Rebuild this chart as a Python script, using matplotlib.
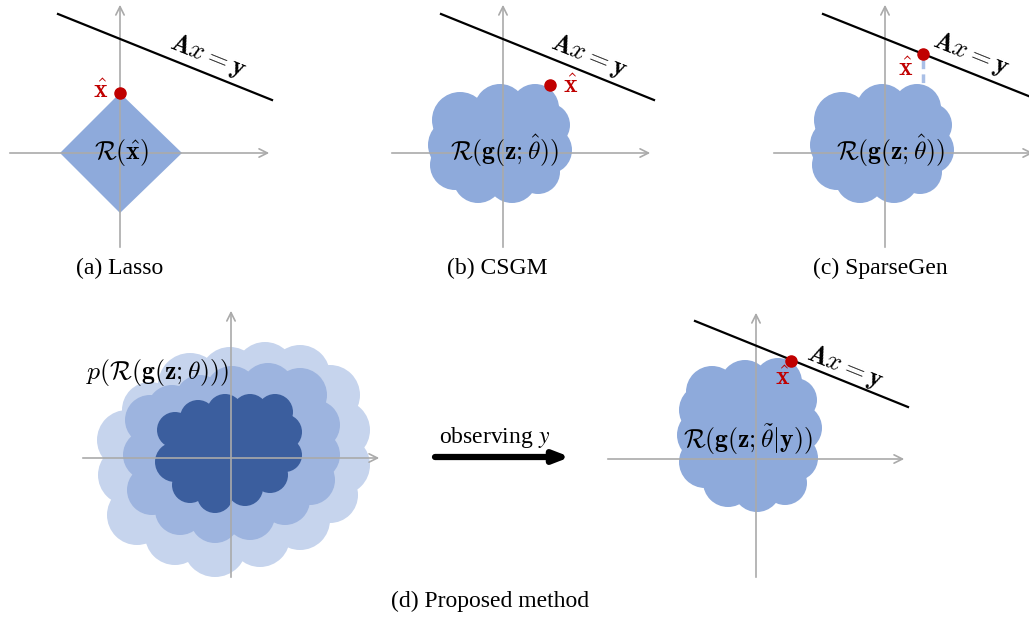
import matplotlib.pyplot as plt
from matplotlib.patches import Circle, Polygon

# canvas is laid out in pixel units of the reference (x right, y down)
W, H = 1029, 620

AXIS_GRAY = "#aaaaaa"
BLUE = "#8eaadb"
OUTER = "#c6d4ed"
MIDDLE = "#9db4df"
INNER = "#3b5e9e"
RED = "#c00000"

# panel axes: x of vertical axis, y of horizontal axis and their extents
panel_axes = {
    "a": dict(x=120, y=153, left=7, right=272, top=2, bottom=250),
    "b": dict(x=503, y=153, left=389, right=653, top=2, bottom=250),
    "c": dict(x=885, y=153, left=771, right=1036, top=2, bottom=250),
    "d1": dict(x=231, y=458, left=80, right=382, top=308, bottom=580),
    "d2": dict(x=756, y=459, left=605, right=907, top=310, bottom=580),
}

# constraint lines A x = y: start, end, label centre
constraint_lines = {
    "a": ((58, 14), (272, 100), (208, 56)),
    "b": ((441, 14), (654, 100), (589, 56)),
    "c": ((823, 14), (1036, 99), (971, 54)),
    "d2": ((695, 321), (908, 407), (845, 367)),
}

# lasso l1 ball: top, right, bottom, left corners
diamond = [(120, 93), (182, 153), (120, 213), (60, 153)]

# cloud bumps (x, y, r), in order round the outline
cloud_b = [(460, 120, 28), (500, 110, 26), (535, 108, 24), (548, 125, 22),
           (548, 150, 24), (538, 172, 22), (512, 178, 25), (478, 178, 25),
           (455, 165, 25), (455, 145, 27)]
cloud_c_shift = 382

cloud_d2 = [(712, 392, 26), (745, 385, 25), (778, 382, 24), (795, 400, 22),
            (798, 428, 24), (795, 458, 23), (785, 483, 22), (757, 488, 24),
            (728, 482, 25), (705, 462, 26), (703, 435, 26), (705, 410, 26)]

cloud_outer = [(150, 410, 28), (127, 440, 30), (128, 475, 30), (137, 515, 30),
               (175, 535, 30), (215, 545, 32), (260, 537, 30), (300, 520, 30),
               (330, 495, 28), (340, 465, 30), (340, 430, 30), (330, 395, 30),
               (300, 375, 30), (265, 372, 30), (230, 377, 30), (190, 385, 32)]

cloud_middle = [(172, 410, 25), (150, 420, 25), (148, 455, 25), (152, 490, 25),
                (180, 510, 25), (215, 518, 25), (250, 515, 25), (285, 500, 25),
                (310, 480, 25), (315, 455, 25), (315, 425, 25), (300, 395, 27),
                (268, 390, 27), (232, 393, 27), (200, 400, 25)]

cloud_inner = [(175, 430, 18), (175, 462, 20), (190, 485, 18), (215, 495, 18),
               (245, 488, 18), (270, 475, 18), (285, 455, 17), (284, 432, 18),
               (275, 412, 18), (250, 412, 18), (225, 412, 18), (198, 418, 18)]

captions = [("(a) Lasso", 120, 268), ("(b) CSGM", 497, 268),
            ("(c) SparseGen", 880, 268), ("(d) Proposed method", 490, 601)]

plt.rcParams["mathtext.fontset"] = "cm"

fig = plt.figure(figsize=(W / 100, H / 100), dpi=100)
ax = fig.add_axes([0, 0, 1, 1])
ax.set_xlim(0, W)
ax.set_ylim(H, 0)
ax.axis("off")


def draw_cloud(bumps, color, dx=0, dy=0, z=2):
    pts = [(x + dx, y + dy) for x, y, r in bumps]
    ax.add_patch(Polygon(pts, closed=True, fc=color, ec="none", zorder=z))
    for x, y, r in bumps:
        ax.add_patch(Circle((x + dx, y + dy), r, fc=color, ec="none", zorder=z))


def draw_axes(p):
    arrow = dict(arrowstyle="->,head_length=0.6,head_width=0.3", color=AXIS_GRAY, lw=1.2)
    ax.annotate("", xy=(p["right"], p["y"]), xytext=(p["left"], p["y"]),
                arrowprops=arrow, zorder=5, annotation_clip=False)
    ax.annotate("", xy=(p["x"], p["top"]), xytext=(p["x"], p["bottom"]),
                arrowprops=arrow, zorder=5, annotation_clip=False)


def draw_constraint(key):
    (x0, y0), (x1, y1), (tx, ty) = constraint_lines[key]
    ax.plot([x0, x1], [y0, y1], color="black", lw=1.6, zorder=6)
    ax.text(tx, ty, r"$\mathbf{A}x=\mathbf{y}$", fontsize=19, rotation=-21.9,
            ha="center", va="center", rotation_mode="anchor", zorder=8)


MATH = 18.5

# (a) Lasso
ax.add_patch(Polygon(diamond, closed=True, fc=BLUE, ec="none", zorder=2))
draw_axes(panel_axes["a"])
draw_constraint("a")
ax.plot(120, 93, "o", color=RED, ms=8, zorder=9)
ax.text(101, 91, r"$\hat{\mathbf{x}}$", color=RED, fontsize=MATH, ha="center", va="center", zorder=9)
ax.text(121, 153, r"$\mathcal{R}(\hat{\mathbf{x}})$", fontsize=MATH, ha="center", va="center", zorder=8)

# (b) CSGM
draw_cloud(cloud_b, BLUE)
draw_axes(panel_axes["b"])
draw_constraint("b")
ax.plot(550, 85, "o", color=RED, ms=8, zorder=9)
ax.text(571, 86, r"$\hat{\mathbf{x}}$", color=RED, fontsize=MATH, ha="center", va="center", zorder=9)
ax.text(505, 151, r"$\mathcal{R}(\mathbf{g}(\mathbf{z};\hat{\theta}))$", fontsize=MATH,
        ha="center", va="center", zorder=8)

# (c) SparseGen
draw_cloud(cloud_b, BLUE, dx=cloud_c_shift)
draw_axes(panel_axes["c"])
draw_constraint("c")
ax.plot([923, 923], [60, 84], color="#a9bfe6", lw=2.5, ls=(0, (2.5, 1.5)), zorder=7)
ax.plot(923, 54, "o", color=RED, ms=8, zorder=9)
ax.text(906, 69, r"$\hat{\mathbf{x}}$", color=RED, fontsize=MATH, ha="center", va="center", zorder=9)
ax.text(891, 151, r"$\mathcal{R}(\mathbf{g}(\mathbf{z};\hat{\theta}))$", fontsize=MATH,
        ha="center", va="center", zorder=8)

# (d) prior over regions
draw_cloud(cloud_outer, OUTER, z=2)
draw_cloud(cloud_middle, MIDDLE, z=3)
draw_cloud(cloud_inner, INNER, z=4)
draw_axes(panel_axes["d1"])
ax.text(86, 373, r"$p\left(\mathcal{R}(\mathbf{g}(\mathbf{z};\theta))\right)$", fontsize=MATH,
        ha="left", va="center", zorder=8)

ax.annotate("", xy=(570, 457), xytext=(435, 457), zorder=8,
            arrowprops=dict(arrowstyle="-|>,head_length=0.9,head_width=0.35", color="black",
                            lw=4.5, shrinkA=0, shrinkB=0))
ax.text(439, 437, r"observing $y$", fontsize=17, family="Liberation Serif",
        math_fontfamily="stix", ha="left", va="center", zorder=8)

# (d) posterior region
draw_cloud(cloud_d2, BLUE)
draw_axes(panel_axes["d2"])
draw_constraint("d2")
ax.plot(791, 361, "o", color=RED, ms=8, zorder=9)
ax.text(783, 378, r"$\hat{\mathbf{x}}$", color=RED, fontsize=MATH, ha="center", va="center", zorder=9)
ax.text(748, 440, r"$\mathcal{R}(\mathbf{g}(\mathbf{z};\tilde{\theta}|\mathbf{y}))$", fontsize=MATH,
        ha="center", va="center", zorder=8)

for label, x, y in captions:
    ax.text(x, y, label, fontsize=17, family="Liberation Serif", ha="center", va="center")

fig.savefig("out.png", dpi=100)
